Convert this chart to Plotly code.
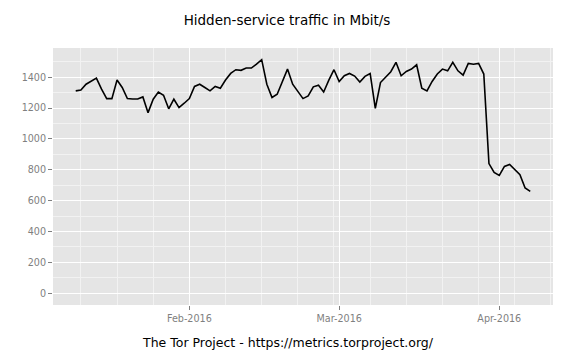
import pandas as pd
import plotly.graph_objects as go

start_date = "2016-01-10"
jan = [1311, 1317, 1354, 1376, 1394, 1322, 1261, 1261, 1381, 1333, 1261, 1258,
       1258, 1272, 1170, 1257, 1304, 1283, 1195, 1257, 1203, 1231]
feb = [1261, 1340, 1354, 1333, 1311, 1340, 1328, 1381, 1424, 1448, 1444, 1459,
       1459, 1485, 1513, 1354, 1268, 1289, 1365, 1452, 1354, 1311, 1261, 1278,
       1337, 1348, 1304, 1381, 1448]
mar = [1372, 1409, 1424, 1407, 1368, 1405, 1424, 1198, 1365, 1402, 1435, 1496,
       1409, 1437, 1452, 1480, 1328, 1311, 1372, 1420, 1452, 1441, 1496, 1441,
       1413, 1489, 1483, 1489, 1420, 840, 783]
apr = [764, 822, 834, 801, 768, 682, 660]

values = jan + feb + mar + apr
dates = pd.date_range(start_date, periods=len(values), freq="D")

title_text = "Hidden-service traffic in Mbit/s"
x_label = "The Tor Project - https://metrics.torproject.org/"
y_ticks = [0, 200, 400, 600, 800, 1000, 1200, 1400]

# ggplot-like 5% expansion
span = dates[-1] - dates[0]
x_range = [dates[0] - span * 0.05, dates[-1] + span * 0.05]
y_lo, y_hi = 0, max(values)
y_range = [y_lo - 0.05 * (y_hi - y_lo), y_hi + 0.05 * (y_hi - y_lo)]

fig = go.Figure()
fig.add_trace(go.Scatter(x=dates, y=values, mode="lines",
                         line=dict(color="black", width=1.6),
                         hoverinfo="x+y", showlegend=False))

FONT = "DejaVu Sans"
fig.update_layout(
    width=573, height=358,
    margin=dict(l=53, r=20, t=48, b=53),
    paper_bgcolor="white",
    plot_bgcolor="#E5E5E5",
    font=dict(family=FONT, color="black"),
    title=dict(text=title_text, x=287 / 573, xref="container", xanchor="center",
               y=1 - 20 / 358, yref="container", yanchor="middle",
               font=dict(size=13.5, family=FONT, color="black")),
    xaxis=dict(
        type="date", range=x_range,
        tickformat="%b-%Y", dtick="M1", tick0="2016-01-01",
        showgrid=True, gridcolor="white", gridwidth=1.1,
        ticks="outside", ticklen=4, tickcolor="#7F7F7F", tickwidth=1,
        tickfont=dict(size=9.6, color="#7F7F7F", family=FONT),
        minor=dict(dtick=7 * 86400000, tick0="2016-01-04", showgrid=True,
                   gridcolor="#F2F2F2", gridwidth=0.6, ticks=""),
        zeroline=False, showline=False, fixedrange=True,
    ),
    yaxis=dict(
        range=y_range, tickvals=y_ticks,
        showgrid=True, gridcolor="white", gridwidth=1.1,
        ticks="outside", ticklen=4, tickcolor="#7F7F7F", tickwidth=1,
        tickfont=dict(size=9.6, color="#7F7F7F", family=FONT),
        minor=dict(dtick=100, tick0=0, showgrid=True,
                   gridcolor="#F2F2F2", gridwidth=0.6, ticks=""),
        zeroline=False, showline=False, fixedrange=True,
    ),
    annotations=[dict(text=x_label, xref="paper", yref="paper",
                      x=(288 - 53) / 500, y=-(342 - 305) / 257,
                      xanchor="center", yanchor="middle", showarrow=False,
                      font=dict(size=12.5, family=FONT, color="black"))],
)

fig.write_html("out.html",
               config={"displayModeBar": False},
               post_script="document.body.style.margin='0px';document.body.style.overflow='hidden';")
